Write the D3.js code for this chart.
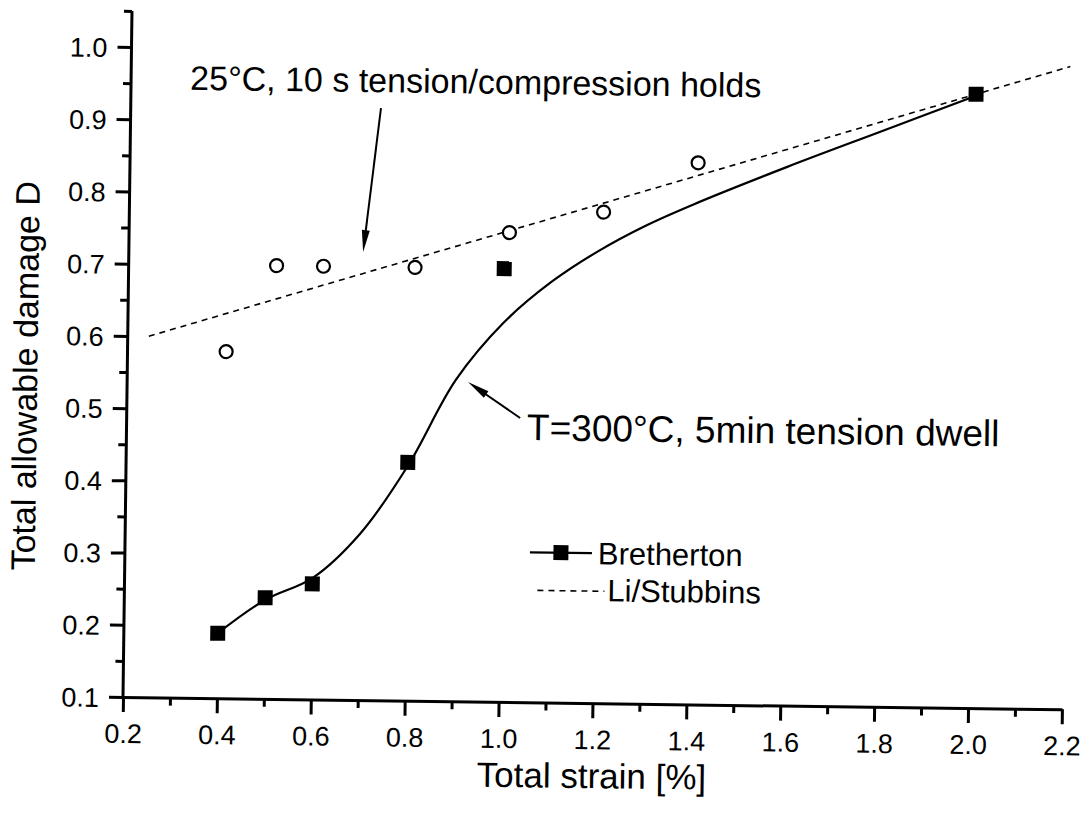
<!DOCTYPE html>
<html><head><meta charset="utf-8">
<script src="https://cdn.jsdelivr.net/npm/d3@7"></script>
<style>body{margin:0;background:#fff}svg{display:block}</style>
</head><body>
<svg id="chart" width="1085" height="814"></svg>
<script>
// ---- data ----
const brethertonX = [0.40, 0.50, 0.60, 0.80, 1.00, 2.00];
const brethertonY = [0.19, 0.24, 0.26, 0.43, 0.70, 0.95];
// smooth fit curve drawn through the Bretherton data
const brethertonFitX = [0.40, 0.50, 0.60, 0.70, 0.80, 0.90, 1.00, 1.10, 1.20, 1.30, 1.40, 1.60, 1.80, 2.00];
const brethertonFitY = [0.19, 0.237, 0.268, 0.33, 0.425, 0.545, 0.625, 0.682, 0.726, 0.762, 0.792, 0.846, 0.897, 0.948];
const liStubbinsX = [0.41, 0.515, 0.615, 0.81, 1.01, 1.21, 1.41];
const liStubbinsY = [0.58, 0.70, 0.70, 0.70, 0.75, 0.78, 0.85];
const liLineX = [0.245, 2.2];
const liLineY = [0.60, 0.99];
const xTicks = [0.2, 0.4, 0.6, 0.8, 1.0, 1.2, 1.4, 1.6, 1.8, 2.0, 2.2];
const xMinor = [0.3, 0.5, 0.7, 0.9, 1.1, 1.3, 1.5, 1.7, 1.9, 2.1];
const yTicks = [0.1, 0.2, 0.3, 0.4, 0.5, 0.6, 0.7, 0.8, 0.9, 1.0];
const yMinor = [0.15, 0.25, 0.35, 0.45, 0.55, 0.65, 0.75, 0.85, 0.95, 1.05];
const xTitle = "Total strain [%]";
const yTitle = "Total allowable damage D";
const legendLabels = ["Bretherton", "Li/Stubbins"];
const annotationTexts = ["25°C, 10 s tension/compression holds", "T=300°C, 5min tension dwell"];
const annotationX = [0.326, 1.053];
const annotationY = [0.942, 0.463];
const arrowFromX = [0.733, 1.038], arrowFromY = [0.920, 0.4935];
const arrowToX = [0.699, 0.926], arrowToY = [0.7205, 0.5424];

// ---- drawing ----
const FONT = "'Liberation Sans', Arial, sans-serif";
const svg = d3.select("#chart");
svg.append("rect").attr("width", 1085).attr("height", 814).attr("fill", "#fff");
const g = svg.append("g").attr("transform", "translate(123,697) rotate(0.75)");

const x = d3.scaleLinear().domain([0.2, 2.2]).range([0, 939]);
const y = d3.scaleLinear().domain([0.1, 1.0]).range([0, -650]);

// Axes
const xAxis = g.append("g").call(d3.axisBottom(x).tickValues(xTicks).tickSize(15).tickSizeOuter(0).tickFormat(d3.format(".1f")));
const xAxisMinor = g.append("g").call(d3.axisBottom(x).tickValues(xMinor).tickSize(8).tickSizeOuter(0).tickFormat(""));
const yAxis = g.append("g").call(d3.axisLeft(y).tickValues(yTicks).tickSize(14).tickSizeOuter(0).tickFormat(d3.format(".1f")));
const yAxisMinor = g.append("g").call(d3.axisLeft(y).tickValues(yMinor).tickSize(8).tickSizeOuter(0).tickFormat(""));
yAxisMinor.select(".domain").attr("d", `M0,0V${y(1.05)}`);
xAxisMinor.select(".domain").remove();
yAxis.select(".domain").remove();
[xAxis, xAxisMinor, yAxis, yAxisMinor].forEach(a => {
  a.selectAll("path,line").attr("stroke", "#000").attr("stroke-width", 3);
});
xAxis.selectAll("text").attr("y", 46).attr("dy", null)
  .attr("font-family", FONT).attr("font-size", 27).attr("fill", "#000");
yAxis.selectAll("text").attr("x", -24).attr("dy", "0.36em")
  .attr("font-family", FONT).attr("font-size", 27).attr("fill", "#000");

// Axis titles
g.append("text").attr("x", x(1.2)).attr("y", 85).attr("text-anchor", "middle")
  .attr("font-family", FONT).attr("font-size", 35).text(xTitle);
g.append("text").attr("transform", `translate(-90,${y(0.543)}) rotate(-90)`).attr("text-anchor", "middle")
  .attr("font-family", FONT).attr("font-size", 34).text(yTitle);

// Li/Stubbins dashed line
const lineGen = d3.line().x(d => x(d[0])).y(d => y(d[1]));
g.append("path").datum(liLineX.map((v, i) => [v, liLineY[i]]))
  .attr("d", lineGen).attr("fill", "none").attr("stroke", "#000")
  .attr("stroke-width", 1.6).attr("stroke-dasharray", "6,5");

// Bretherton smooth curve
g.append("path").datum(brethertonFitX.map((v, i) => [v, brethertonFitY[i]]))
  .attr("d", lineGen.curve(d3.curveCatmullRom.alpha(0.5))).attr("fill", "none")
  .attr("stroke", "#000").attr("stroke-width", 2.2);

// Li/Stubbins open circles
g.selectAll("circle.li").data(liStubbinsX.map((v, i) => [v, liStubbinsY[i]])).enter()
  .append("circle").attr("class", "li").attr("cx", d => x(d[0])).attr("cy", d => y(d[1]))
  .attr("r", 6.5).attr("fill", "#fff").attr("stroke", "#000").attr("stroke-width", 2.2);

// Bretherton squares
const sq = 15;
g.selectAll("rect.br").data(brethertonX.map((v, i) => [v, brethertonY[i]])).enter()
  .append("rect").attr("class", "br").attr("x", d => x(d[0]) - sq / 2).attr("y", d => y(d[1]) - sq / 2)
  .attr("width", sq).attr("height", sq).attr("fill", "#000");

// Annotations
const annSizes = [34, 37];
annotationTexts.forEach((t, i) => {
  g.append("text").attr("x", x(annotationX[i])).attr("y", y(annotationY[i]))
    .attr("font-family", FONT).attr("font-size", annSizes[i]).attr("fill", "#000").text(t);
});
function arrow(x1, y1, x2, y2) {
  const p1 = [x(x1), y(y1)], p2 = [x(x2), y(y2)];
  const dx = p2[0] - p1[0], dy = p2[1] - p1[1];
  const L = Math.hypot(dx, dy), ux = dx / L, uy = dy / L;
  const hl = 22, hw = 4;
  const b = [p2[0] - ux * hl, p2[1] - uy * hl];
  g.append("line").attr("x1", p1[0]).attr("y1", p1[1]).attr("x2", b[0] + ux * 4).attr("y2", b[1] + uy * 4)
    .attr("stroke", "#000").attr("stroke-width", 2);
  g.append("path").attr("d", `M${p2[0]},${p2[1]}L${b[0] - uy * hw},${b[1] + ux * hw}L${b[0] + uy * hw},${b[1] - ux * hw}Z`)
    .attr("fill", "#000");
}
arrowFromX.forEach((v, i) => arrow(v, arrowFromY[i], arrowToX[i], arrowToY[i]));

// Legend
const lg = g.append("g").attr("transform", "translate(405,-150)");
lg.append("line").attr("x1", 0).attr("x2", 62).attr("y1", 0).attr("y2", 0).attr("stroke", "#000").attr("stroke-width", 2.2);
lg.append("rect").attr("x", 31 - 7.5).attr("y", -7.5).attr("width", 15).attr("height", 15).attr("fill", "#000");
lg.append("text").attr("x", 68).attr("y", 11).attr("font-family", FONT).attr("font-size", 31).text(legendLabels[0]);
lg.append("line").attr("x1", 8).attr("x2", 75).attr("y1", 38).attr("y2", 38).attr("stroke", "#000")
  .attr("stroke-width", 1.6).attr("stroke-dasharray", "6,5");
lg.append("text").attr("x", 78).attr("y", 48).attr("font-family", FONT).attr("font-size", 31).text(legendLabels[1]);
</script>
</body></html>
